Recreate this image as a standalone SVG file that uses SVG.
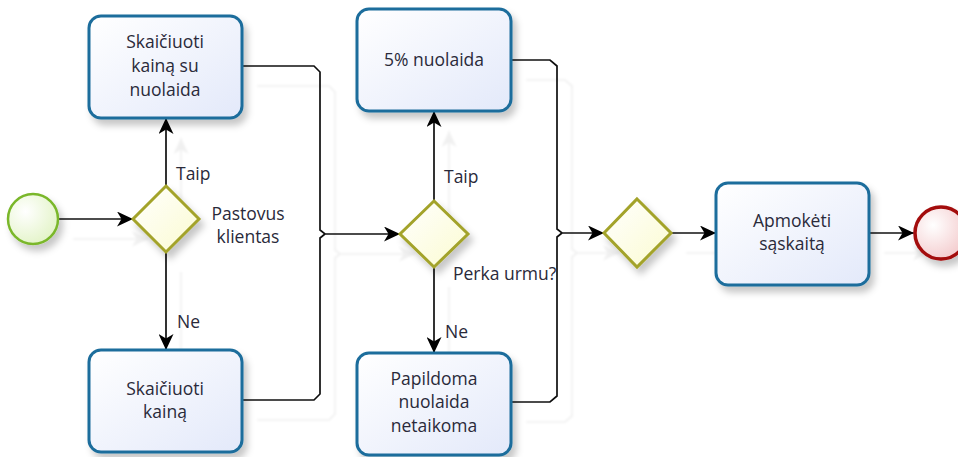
<svg xmlns="http://www.w3.org/2000/svg" width="958" height="457" viewBox="0 0 958 457">
  <defs>
    <linearGradient id="taskFill" x1="0" y1="0" x2="1" y2="1">
      <stop offset="0" stop-color="#ffffff"/>
      <stop offset="1" stop-color="#e3e9fa"/>
    </linearGradient>
    <linearGradient id="gwFill" x1="0" y1="0" x2="1" y2="1">
      <stop offset="0" stop-color="#ffffff"/>
      <stop offset="1" stop-color="#fbfbd0"/>
    </linearGradient>
    <radialGradient id="startFill" cx="0.35" cy="0.35" r="0.8">
      <stop offset="0" stop-color="#ffffff"/>
      <stop offset="1" stop-color="#dff2c0"/>
    </radialGradient>
    <radialGradient id="endFill" cx="0.35" cy="0.35" r="0.8">
      <stop offset="0" stop-color="#ffffff"/>
      <stop offset="1" stop-color="#f2c4c6"/>
    </radialGradient>
    <filter id="nodeShadow" x="-20%" y="-20%" width="150%" height="150%">
      <feDropShadow dx="4" dy="6" stdDeviation="3.5" flood-color="#000" flood-opacity="0.22"/>
    </filter>
    <filter id="lineGhost" x="-10%" y="-10%" width="130%" height="130%">
      <feDropShadow dx="15" dy="20" stdDeviation="0.8" flood-color="#000" flood-opacity="0.06"/>
    </filter>
    <marker id="arrow" markerUnits="userSpaceOnUse" markerWidth="17" markerHeight="15" viewBox="0 0 17 15" refX="16" refY="7.5" orient="auto">
      <path d="M0,0 L16,7.5 L0,15 L4.5,7.5 Z" fill="#000"/>
    </marker>
  </defs>
  <style>
    .task { fill: url(#taskFill); stroke: #1c6d9c; stroke-width: 3; filter: url(#nodeShadow); }
    .gw { fill: url(#gwFill); stroke: #a3a32a; stroke-width: 3; stroke-linejoin: miter; filter: url(#nodeShadow); }
    .flow { fill: none; stroke: #111; stroke-width: 1.7; stroke-linejoin: miter; }
    .arr { marker-end: url(#arrow); }
    text { font-family: "Open Sans", "Noto Sans", "DejaVu Sans", sans-serif; font-size: 17.5px; fill: #2a2a3a; }
    .c { text-anchor: middle; }
  </style>

  <rect x="0" y="0" width="958" height="457" fill="#ffffff"/>

  <!-- sequence flows -->
  <g id="connectors" filter="url(#lineGhost)">
    <path class="flow arr" d="M58,219 H133"/>
    <path class="flow arr" d="M166,186 V118"/>
    <path class="flow arr" d="M166,252 V350"/>
    <path class="flow arr" d="M242,66 H314 L320,72 V230 L325,234 H400"/>
    <path class="flow" d="M242,400 H314 L320,394 V238 L325,234"/>
    <path class="flow arr" d="M434,201 V111"/>
    <path class="flow arr" d="M434,267 V353"/>
    <path class="flow arr" d="M511,60 H550 L557,66 V229 L562,233 H604"/>
    <path class="flow" d="M511,402 H550 L557,396 V237 L562,233"/>
    <path class="flow arr" d="M671,233 H716"/>
    <path class="flow arr" d="M869,233 H914"/>
  </g>

  <!-- flow labels -->
  <g id="labels">
    <text x="176" y="180">Taip</text>
    <text x="177" y="328">Ne</text>
    <text class="c" x="248" y="220">Pastovus</text>
    <text class="c" x="248" y="243">klientas</text>
    <text x="444" y="183">Taip</text>
    <text x="445" y="338">Ne</text>
    <text x="453" y="280">Perka urmu?</text>
  </g>

  <g id="start">
    <circle cx="33" cy="219" r="25" fill="url(#startFill)" stroke="#7ab72c" stroke-width="2.5" filter="url(#nodeShadow)"/>
  </g>

  <g id="gw-pastovus">
    <polygon class="gw" points="166,186 199,219 166,252 133,219"/>
  </g>

  <g id="task-nuolaida">
    <rect class="task" x="89" y="16" width="153" height="102" rx="12"/>
    <text class="c" x="165" y="48">Skaičiuoti</text>
    <text class="c" x="165" y="72">kainą su</text>
    <text class="c" x="165" y="96">nuolaida</text>
  </g>

  <g id="task-kaina">
    <rect class="task" x="89" y="350" width="153" height="102" rx="12"/>
    <text class="c" x="165" y="395">Skaičiuoti</text>
    <text class="c" x="165" y="418">kainą</text>
  </g>

  <g id="gw-urmu">
    <polygon class="gw" points="434,201 468,234 434,267 400,234"/>
  </g>

  <g id="task-5proc">
    <rect class="task" x="357" y="9" width="154" height="102" rx="12"/>
    <text class="c" x="434" y="66">5% nuolaida</text>
  </g>

  <g id="task-papildoma">
    <rect class="task" x="357" y="353" width="154" height="102" rx="12"/>
    <text class="c" x="434" y="385">Papildoma</text>
    <text class="c" x="434" y="408">nuolaida</text>
    <text class="c" x="434" y="432">netaikoma</text>
  </g>

  <g id="gw-merge">
    <polygon class="gw" points="637,199 671,233 637,267 604,233"/>
  </g>

  <g id="task-apmoketi">
    <rect class="task" x="716" y="183" width="153" height="102" rx="12"/>
    <text class="c" x="792" y="227">Apmokėti</text>
    <text class="c" x="792" y="250">sąskaitą</text>
  </g>

  <g id="end">
    <circle cx="941" cy="233" r="26" fill="url(#endFill)" stroke="#a30a0a" stroke-width="3.5" filter="url(#nodeShadow)"/>
  </g>
</svg>
